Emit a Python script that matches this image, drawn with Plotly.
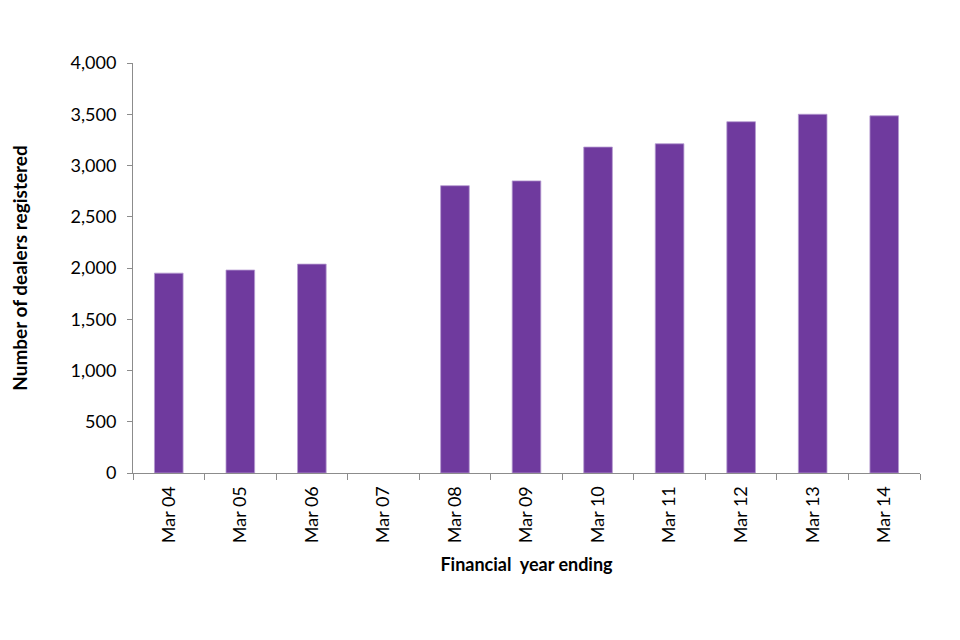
import plotly.graph_objects as go

categories = ["Mar 04", "Mar 05", "Mar 06", "Mar 07", "Mar 08", "Mar 09",
              "Mar 10", "Mar 11", "Mar 12", "Mar 13", "Mar 14"]
dealers = [1950, 1980, 2038, None, 2803, 2850, 3180, 3212, 3427, 3500, 3485]
y_ticks = [0, 500, 1000, 1500, 2000, 2500, 3000, 3500, 4000]
y_tick_labels = ["0", "500", "1,000", "1,500", "2,000", "2,500", "3,000", "3,500", "4,000"]

font_family = "Lato, 'Open Sans', sans-serif"

fig = go.Figure(go.Bar(
    x=categories, y=dealers,
    marker=dict(color="#6F3A9E", line=dict(color="#B59BD0", width=0.8)),
))

fig.update_layout(
    width=960, height=640,
    paper_bgcolor="white", plot_bgcolor="white",
    margin=dict(l=122, r=48, t=55, b=175),
    bargap=0.6,
    showlegend=False,
    font=dict(family=font_family, size=18, color="black"),
)
fig.update_xaxes(
    type="category",
    tickangle=-90,
    showline=True, linecolor="#8c8c8c", linewidth=1,
    ticks="outside", tickson="boundaries", ticklen=6, tickcolor="#8c8c8c",
    ticklabelstandoff=5,
    showgrid=False,
    tickfont=dict(size=18),
    title=dict(text="<b>Financial  year ending</b>", font=dict(size=18), standoff=16),
)
fig.update_yaxes(
    range=[0, 4000],
    tickvals=y_ticks, ticktext=y_tick_labels,
    showline=True, linecolor="#8c8c8c", linewidth=1,
    ticks="outside", ticklen=5, tickcolor="#8c8c8c",
    ticklabelstandoff=7,
    showgrid=False, zeroline=False,
    tickfont=dict(size=18),
    title=dict(text="<b>Number of dealers registered</b>", font=dict(size=19), standoff=37),
)

fig.write_html("out.html")
